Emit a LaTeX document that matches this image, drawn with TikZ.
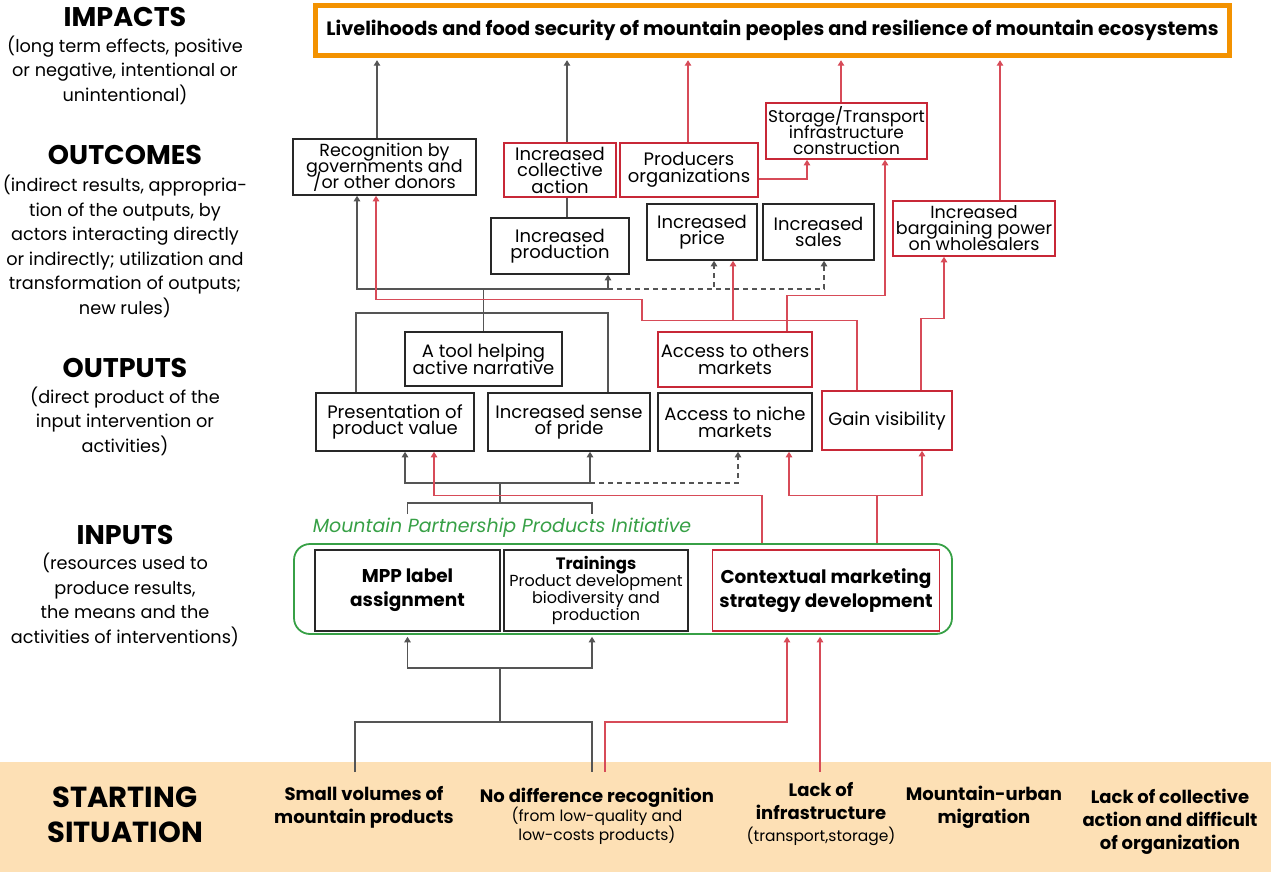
\documentclass[tikz,border=0pt]{standalone}
\usepackage{fontspec}
\setmainfont{Poppins}
\usetikzlibrary{arrows.meta}
\lineskiplimit=-\maxdimen

\definecolor{impactorange}{RGB}{243,146,0}
\definecolor{boxred}{RGB}{200,40,55}
\definecolor{linkred}{RGB}{215,75,88}
\definecolor{boxblack}{RGB}{40,40,40}
\definecolor{linkgray}{RGB}{85,85,85}
\definecolor{mppgreen}{RGB}{55,160,70}
\definecolor{startband}{RGB}{253,224,181}

\tikzset{
  OutBox/.style={draw=boxblack, line width=1.6pt, align=center, inner sep=0pt,
    font=\fontsize{18}{16.5}\selectfont},
  RedBox/.style={OutBox, draw=boxred},
  InBox/.style={OutBox, minimum height=81pt, font=\fontsize{18.5}{24}\selectfont\bfseries},
  Link/.style={draw=linkgray, line width=1.1pt},
  LinkArrow/.style={Link, -{Triangle[length=5.5pt,width=6.5pt]}},
  DashArrow/.style={LinkArrow, dash pattern=on 5pt off 4pt},
  RedLink/.style={draw=linkred, line width=1.1pt},
  RedArrow/.style={RedLink, -{Triangle[length=5.5pt,width=6.5pt]}},
  LevelHead/.style={font=\fontsize{27}{28}\selectfont\bfseries},
  LevelText/.style={align=center, font=\fontsize{17.7}{24.5}\selectfont},
  StartText/.style={align=center, anchor=north, inner xsep=0pt, outer sep=0pt,
    font=\fontsize{18}{23}\selectfont\bfseries},
  SubText/.style={align=center, font=\fontsize{15.5}{19}\selectfont},
}

\begin{document}
\begin{tikzpicture}[x=1pt, y=-1pt]
  \useasboundingbox (0,0) rectangle (1271,872);
  \fill[startband] (0,762) rectangle (1271,872);

  % levels
  \node[LevelHead] (ImpH) at (125,17) {IMPACTS};
  \node[LevelText] (ImpT) at (125,70) {(long term effects, positive\\or negative, intentional or\\unintentional)};
  \node[LevelHead] (OutcH) at (125,155) {OUTCOMES};
  \node[LevelText] (OutcT) at (125,246.5) {(indirect results, appropria-\\tion of the outputs, by\\actors interacting directly\\or indirectly; utilization and\\transformation of outputs;\\new rules)};
  \node[LevelHead] (OutpH) at (125,368) {OUTPUTS};
  \node[LevelText] (OutpT) at (125,421) {(direct product of the\\input intervention or\\activities)};
  \node[LevelHead] (InH) at (125,535) {INPUTS};
  \node[LevelText] (InT) at (125,600) {(resources used to\\produce results,\\the means and the\\activities of interventions)};
  \node[align=center, font=\fontsize{29}{35}\selectfont\bfseries] (StartH) at (125,815) {STARTING\\SITUATION};

  % impact
  \node[draw=impactorange, line width=5pt, minimum width=914pt, minimum height=50pt,
    font=\fontsize{19.3}{20}\selectfont\bfseries] (Imp) at (772.5,30.5)
    {Livelihoods and food security of mountain peoples and resilience of mountain ecosystems};

  % outcomes
  \node[OutBox, minimum width=183pt, minimum height=56pt, font=\fontsize{17.5}{16}\selectfont] (Rec) at (384.5,167) {Recognition by\\governments and\\/or other donors};
  \node[RedBox, minimum width=112pt, minimum height=54pt] (Coll) at (560,170) {Increased\\collective\\action};
  \node[OutBox, minimum width=138pt, minimum height=56pt] (Prod) at (560,246) {Increased\\production};
  \node[RedBox, minimum width=138pt, minimum height=54pt] (Porg) at (689,170) {Producers\\organizations};
  \node[RedBox, minimum width=161pt, minimum height=56pt, font=\fontsize{17}{16}\selectfont] (Stor) at (846.5,131) {Storage/Transport\\infrastructure\\construction};
  \node[OutBox, minimum width=110pt, minimum height=56pt] (Price) at (702,232) {Increased\\price};
  \node[OutBox, minimum width=111pt, minimum height=56pt] (Sales) at (818.5,232) {Increased\\sales};
  \node[RedBox, minimum width=162pt, minimum height=55pt, font=\fontsize{17.5}{16}\selectfont] (Barg) at (974,228.5) {Increased\\bargaining power\\on wholesalers};

  % outputs
  \node[OutBox, minimum width=157pt, minimum height=54pt] (Tool) at (483.5,359) {A tool helping\\active narrative};
  \node[RedBox, minimum width=154pt, minimum height=55pt] (Others) at (735,359.5) {Access to others\\markets};
  \node[OutBox, minimum width=158pt, minimum height=58pt] (Pres) at (395,422) {Presentation of\\product value};
  \node[OutBox, minimum width=162pt, minimum height=58pt] (Pride) at (569,422) {Increased sense\\of pride};
  \node[OutBox, minimum width=154pt, minimum height=58pt] (Niche) at (735,422) {Access to niche\\markets};
  \node[RedBox, minimum width=130pt, minimum height=59pt] (Gain) at (887,420.5) {Gain visibility};

  % inputs
  \node[draw=mppgreen, line width=1.8pt, rounded corners=16pt, minimum width=658pt, minimum height=90pt] (Mppi) at (623,589) {};
  \node[text=mppgreen, font=\fontsize{19}{19}\selectfont\itshape] (MppiT) at (502,528) {Mountain Partnership Products Initiative};
  \node[InBox, minimum width=185pt] (Mpp) at (407.5,590.5) {MPP label\\assignment};
  \node[OutBox, minimum width=184pt, minimum height=81pt, font=\fontsize{16}{17}\selectfont] (Train) at (596,590.5)
    {{\fontsize{16.5}{17}\selectfont\bfseries Trainings}\\Product development\\biodiversity and\\production};
  \node[InBox, draw=boxred, minimum width=227pt] (Ctx) at (826,590.5) {Contextual marketing\\strategy development};

  % starting situation
  \node[StartText, inner ysep=14pt] (Small) at (364,772) {Small volumes of\\mountain products};
  \node[StartText, inner ysep=16pt] (NoDiff) at (597,772) {No difference recognition};
  \node[SubText] (NoDiffT) at (597,826) {(from low-quality and\\low-costs products)};
  \node[StartText, inner ysep=10pt] (Infra) at (821,772) {Lack of\\infrastructure};
  \node[SubText] (InfraT) at (821,836) {(transport,storage)};
  \node[StartText, inner ysep=14pt] (Migr) at (984,772) {Mountain-urban\\migration};
  \node[StartText, inner ysep=17pt] (Lack) at (1170,772) {Lack of collective\\action and difficult\\of organization};

  % outcomes -> impact
  \draw[LinkArrow] ([xshift=-7.5pt]Rec.north) -- ++(0,-78);
  \draw[LinkArrow] ([xshift=7pt]Coll.north) -- ++(0,-82);
  \draw[RedArrow] ([xshift=-1pt]Porg.north) -- ++(0,-82);
  \draw[RedArrow] ([xshift=-5.5pt]Stor.north) -- ++(0,-42);
  \draw[RedArrow] ([xshift=26pt]Barg.north) -- ++(0,-140);
  \draw[Link] ([xshift=7pt]Prod.north) -- ([xshift=7pt]Coll.south);
  \draw[RedArrow] ([yshift=-9pt]Porg.east) -| ([xshift=-39.5pt]Stor.south);

  % outputs -> outcomes
  \coordinate (KnotPair) at (483.5,313);
  \coordinate (KnotTop) at (483.5,289);
  \coordinate (KnotDash) at (608,289);
  \draw[Link] ([xshift=-39pt]Pres.north) |- (KnotPair) -| ([xshift=39pt]Pride.north);
  \draw[Link] (Tool.north) -- (KnotTop);
  \draw[LinkArrow] (KnotTop) -| ([xshift=-27.5pt]Rec.south);
  \draw[LinkArrow] (KnotTop) -- (KnotDash) -- ([xshift=48pt]Prod.south);
  \draw[DashArrow] (KnotDash) -| ([xshift=12pt]Price.south);
  \draw[DashArrow] (KnotDash) -| ([xshift=5.5pt]Sales.south);
  \draw[RedArrow] ([xshift=-30pt]Gain.north) -- ++(0,-70) -- ++(-215,0) -- ++(0,-21) -| ([xshift=-8.5pt]Rec.south);
  \draw[RedArrow] ([xshift=-30pt]Gain.north) ++(-124,-70) -- ([xshift=31pt]Price.south);
  \draw[RedArrow] ([xshift=52pt]Others.north) -- ++(0,-36) -| ([xshift=38.5pt]Stor.south);
  \draw[RedArrow] ([xshift=34pt]Gain.north) -- ++(0,-72) -| ([xshift=-30pt]Barg.south);

  % inputs -> outputs
  \coordinate (KnotIn) at (500,503);
  \coordinate (KnotOut) at (500,483);
  \coordinate (KnotNiche) at (590,483);
  \draw[Link] ([yshift=35pt]Mpp.north) |- (KnotIn) -| ([xshift=-4pt,yshift=35pt]Train.north);
  \draw[Link] (KnotIn) -- (KnotOut);
  \draw[LinkArrow] (KnotOut) -| ([xshift=10pt]Pres.south);
  \draw[LinkArrow] (KnotOut) -| ([xshift=21pt]Pride.south);
  \draw[DashArrow] (KnotNiche) -| ([xshift=3pt]Niche.south);
  \draw[RedArrow] ([xshift=-64pt,yshift=6pt]Ctx.north) -- ++(0,-48) -| ([xshift=39pt]Pres.south);
  \draw[RedArrow] ([xshift=51pt,yshift=6pt]Ctx.north) -- ++(0,-48) -| ([xshift=54pt]Niche.south);
  \draw[RedArrow] ([xshift=51pt,yshift=6pt]Ctx.north) -- ++(0,-48) -| ([xshift=35pt]Gain.south);

  % starting situation -> inputs
  \coordinate (KnotStart) at (500,722);
  \draw[Link] ([xshift=-9pt]Small.north) |- (KnotStart) -| ([xshift=-5pt]NoDiff.north);
  \draw[LinkArrow] (KnotStart) -- ++(0,-54) -| ([yshift=-5pt]Mpp.south);
  \draw[LinkArrow] (KnotStart) -- ++(0,-54) -| ([xshift=-4pt,yshift=-5pt]Train.south);
  \draw[RedArrow] ([xshift=8pt]NoDiff.north) -- ++(0,-50) -| ([xshift=-39pt,yshift=-5pt]Ctx.south);
  \draw[RedArrow] ([xshift=-1pt]Infra.north) -- ([xshift=-6pt,yshift=-5pt]Ctx.south);
\end{tikzpicture}
\end{document}
